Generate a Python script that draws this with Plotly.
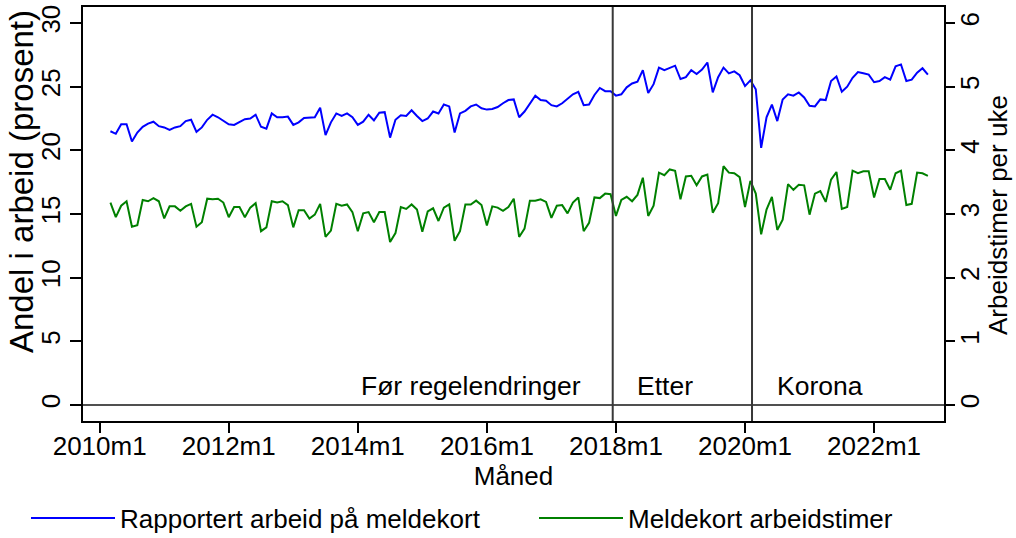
import plotly.graph_objects as go

# ---- data (monthly, 2010m3 .. 2022m11) ----
first_month_index = 2  # months since 2010m1 -> 2010m3

share_working = [  # Rapportert arbeid på meldekort (prosent), left axis
    21.5, 21.3, 22.05, 22.05, 20.7, 21.4, 21.85, 22.1, 22.25, 21.9,
    21.8, 21.6, 21.8, 21.9, 22.3, 22.4, 21.45, 21.8, 22.4, 22.8, 22.6, 22.35,
    22.05, 22.0, 22.25, 22.45, 22.5, 22.8, 21.85, 21.7, 22.9, 22.6, 22.6, 22.65,
    22.0, 22.2, 22.55, 22.55, 22.6, 23.35, 21.2, 22.2, 22.9, 22.7, 22.9, 22.6,
    22.0, 22.25, 22.8, 22.35, 22.95, 23.0, 21.0, 22.4, 22.75, 22.7, 23.15, 22.7,
    22.3, 22.5, 23.05, 22.9, 23.6, 23.45, 21.4, 22.9, 23.1, 23.45, 23.6, 23.3,
    23.2, 23.25, 23.4, 23.7, 23.95, 24.0, 22.6, 23.05, 23.7, 24.3, 23.95, 23.9,
    23.55, 23.45, 23.7, 24.05, 24.4, 24.6, 23.55, 23.6, 24.35, 24.9, 24.65, 24.65,
    24.3, 24.4, 24.95, 25.25, 25.4, 26.3, 24.5, 25.2, 26.5, 26.3, 26.5, 26.65,
    25.6, 25.75, 26.3, 26.0, 26.35, 26.9, 24.55, 25.75, 26.5, 26.05, 26.2, 25.9,
    25.05, 25.5, 24.8, 20.2, 22.6, 23.6, 22.3, 24.0, 24.4, 24.3, 24.55, 24.15,
    23.5, 23.45, 24.0, 23.95, 25.45, 25.8, 24.6, 25.0, 25.7, 26.15, 26.05, 25.95,
    25.35, 25.45, 25.75, 25.55, 26.6, 26.75, 25.45, 25.55, 26.1, 26.45, 25.95,
]

hours_per_week = [  # Meldekort arbeidstimer, right axis
    3.18, 2.95, 3.13, 3.2, 2.80, 2.825, 3.22, 3.2, 3.25, 3.2,
    2.93, 3.12, 3.12, 3.05, 3.12, 3.16, 2.80, 2.87, 3.24, 3.23, 3.24, 3.18,
    2.95, 3.11, 3.11, 2.95, 3.10, 3.17, 2.73, 2.79, 3.2, 3.18, 3.2, 3.14,
    2.79, 3.06, 3.06, 2.93, 2.99, 3.16, 2.64, 2.74, 3.16, 3.13, 3.15, 3.03,
    2.73, 3.01, 3.03, 2.87, 3.03, 3.03, 2.56, 2.70, 3.11, 3.08, 3.15, 3.07,
    2.72, 3.04, 3.09, 2.89, 3.10, 3.15, 2.58, 2.73, 3.15, 3.15, 3.21, 3.14,
    2.82, 3.12, 3.10, 3.05, 3.11, 3.24, 2.64, 2.77, 3.21, 3.21, 3.23, 3.19,
    2.94, 3.13, 3.14, 3.01, 3.18, 3.26, 2.73, 2.86, 3.26, 3.25, 3.32, 3.31,
    2.97, 3.22, 3.27, 3.20, 3.30, 3.57, 2.97, 3.13, 3.65, 3.61, 3.70, 3.68,
    3.23, 3.59, 3.60, 3.45, 3.59, 3.62, 3.02, 3.17, 3.75, 3.65, 3.64, 3.58,
    3.11, 3.52, 3.32, 2.68, 3.07, 3.27, 2.75, 2.91, 3.47, 3.38, 3.46, 3.45,
    2.99, 3.32, 3.36, 3.19, 3.54, 3.66, 3.08, 3.11, 3.68, 3.64, 3.67, 3.67,
    3.26, 3.55, 3.55, 3.38, 3.64, 3.68, 3.14, 3.16, 3.65, 3.64, 3.60,
]

tick_labels = ["2010m1", "2012m1", "2014m1", "2016m1", "2018m1", "2020m1", "2022m1"]
left_ticks = [0, 5, 10, 15, 20, 25, 30]
right_ticks = [0, 1, 2, 3, 4, 5, 6]
period_labels = ["Før regelendringer", "Etter", "Korona"]
series_names = ["Rapportert arbeid på meldekort", "Meldekort arbeidstimer"]

# ---- derived ----
months = list(range(first_month_index, first_month_index + len(share_working)))
tick_months = [(int(t[:4]) - 2010) * 12 for t in tick_labels]

rule_change = 95.4   # between 2017m12 and 2018m1
corona = 121.3       # between 2020m2 and 2020m3

# plot area geometry (px)
L, R, T, B = 83, 72, 7, 117
W, H = 1016, 538
PW, PH = W - L - R, H - T - B


def px_x(px):
    return (px - L) / PW


def px_y(py):
    return (H - B - py) / PH


FONT = "Liberation Sans, Arial, Helvetica, sans-serif"
fig = go.Figure()
fig.add_trace(go.Scatter(x=months, y=share_working, mode="lines", name=series_names[0],
                         line=dict(color="#0000ff", width=2), legend="legend"))
fig.add_trace(go.Scatter(x=months, y=hours_per_week, mode="lines", name=series_names[1],
                         line=dict(color="#008000", width=2), yaxis="y2", legend="legend2"))

axis_common = dict(showgrid=False, zeroline=False, showline=True, linecolor="black",
                   linewidth=2, ticks="outside", tickcolor="black", tickwidth=1.5,
                   automargin=False,
                   tickfont=dict(family=FONT, size=26, color="black"))

fig.update_layout(
    width=W, height=H,
    margin=dict(l=L, r=R, t=T, b=B, autoexpand=False),
    paper_bgcolor="white", plot_bgcolor="white",
    font=dict(family=FONT, size=26, color="black"),
    xaxis=dict(range=[-3.1, 157.0], tickvals=tick_months, ticktext=tick_labels,
               ticklen=10, mirror=True, ticklabelstandoff=-9,
               title=dict(text="Måned", font=dict(size=26), standoff=7), **axis_common),
    yaxis=dict(range=[-1.26, 31.26], tickvals=left_ticks, tickangle=-90, ticklen=11,
               **axis_common),
    yaxis2=dict(range=[-0.252, 6.252], tickvals=right_ticks, tickangle=-90, ticklen=9,
                ticklabelstandoff=-7,
                overlaying="y", side="right", **axis_common),
    legend=dict(orientation="h", x=px_x(26), xanchor="left", y=px_y(518), yanchor="middle",
                itemwidth=84, font=dict(size=26), bgcolor="rgba(0,0,0,0)"),
    legend2=dict(orientation="h", x=px_x(534), xanchor="left", y=px_y(518), yanchor="middle",
                 itemwidth=84, font=dict(size=26), bgcolor="rgba(0,0,0,0)"),
    showlegend=True,
)

# reference lines
fig.add_shape(type="line", xref="paper", x0=0, x1=1, yref="y", y0=0, y1=0,
              line=dict(color="#505050", width=2))
for xv in (rule_change, corona):
    fig.add_shape(type="line", xref="x", x0=xv, x1=xv, yref="paper", y0=0, y1=1,
                  line=dict(color="#383838", width=2))

# period labels
fig.add_annotation(x=89.8, y=1.5, xref="x", yref="y", text=period_labels[0],
                   showarrow=False, xanchor="right", yanchor="middle", font=dict(size=26.5))
fig.add_annotation(x=99.6, y=1.5, xref="x", yref="y", text=period_labels[1],
                   showarrow=False, xanchor="left", yanchor="middle", font=dict(size=26.5))
fig.add_annotation(x=125.6, y=1.5, xref="x", yref="y", text=period_labels[2],
                   showarrow=False, xanchor="left", yanchor="middle", font=dict(size=26.5))

# axis titles
fig.add_annotation(x=px_x(21), y=px_y(182), xref="paper", yref="paper",
                   text="Andel i arbeid (prosent)",
                   textangle=-90, showarrow=False, xanchor="center", yanchor="middle",
                   font=dict(size=33))
fig.add_annotation(x=px_x(998), y=px_y(215), xref="paper", yref="paper",
                   text="Arbeidstimer per uke",
                   textangle=-90, showarrow=False, xanchor="center", yanchor="middle",
                   font=dict(size=26))

fig.write_html("out.html", config={"displayModeBar": False},
               post_script="document.body.style.margin='0px';")
